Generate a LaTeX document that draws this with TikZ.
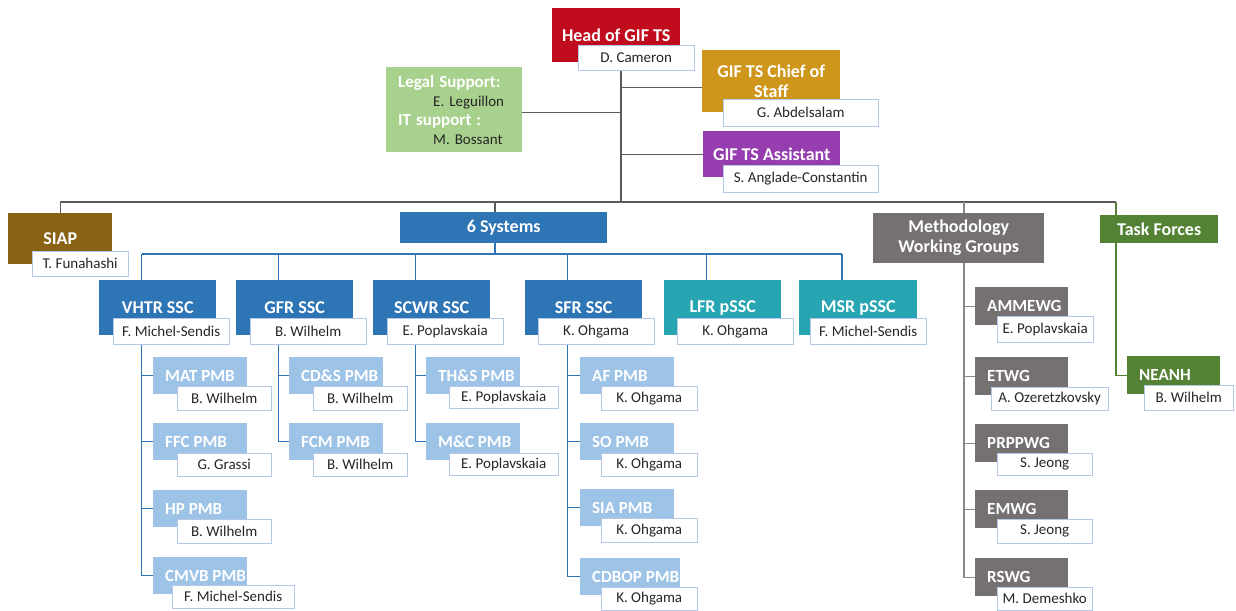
\documentclass[tikz,border=0pt]{standalone}
\usepackage{fontspec}
\setmainfont{Carlito}
\usetikzlibrary{backgrounds}

\definecolor{headred}{RGB}{192,12,28}
\definecolor{chiefgold}{RGB}{207,150,28}
\definecolor{assistpurple}{RGB}{150,62,175}
\definecolor{legalgreen}{RGB}{169,209,142}
\definecolor{siapbrown}{RGB}{137,98,20}
\definecolor{sysblue}{RGB}{46,117,182}
\definecolor{pteal}{RGB}{40,165,178}
\definecolor{pmbblue}{RGB}{157,195,230}
\definecolor{wggrey}{RGB}{118,113,113}
\definecolor{tfgreen}{RGB}{84,130,53}
\definecolor{nameline}{RGB}{180,199,231}
\definecolor{nametext}{RGB}{38,38,38}
\definecolor{linegrey}{RGB}{90,90,90}

\begin{document}
\begin{tikzpicture}[x=1pt, y=-1pt,
    title/.style={anchor=north west, inner sep=0pt, text=white, align=center,
      font=\bfseries\fontsize{18}{20}\selectfont},
    person/.style={anchor=north west, draw=nameline, fill=white, inner sep=0pt,
      minimum height=25pt, text=nametext, font=\fontsize{15}{16}\selectfont},
    boxtext/.style={anchor=west, xshift=12pt, inner sep=0pt, text=white,
      font=\bfseries\fontsize{17}{18}\selectfont},
    pmb/.style={anchor=north west, fill=pmbblue, minimum width=94pt,
      minimum height=37pt, inner sep=0pt, label={[boxtext]west:#1}},
    wg/.style={pmb=#1, fill=wggrey, minimum width=93pt, minimum height=38pt},
    topline/.style={draw=linegrey, line width=1.3pt},
    sysline/.style={draw=sysblue, line width=1.5pt},
    wgline/.style={draw=wggrey!85, line width=1.3pt},
    tfline/.style={draw=tfgreen, line width=1.3pt}]

  \useasboundingbox (0,0) rectangle (1236,610);

  % Head of GIF TS and staff
  \node[title, fill=headred, minimum width=128pt, minimum height=54pt] (head) at (552,8) {Head of GIF TS};
  \node[person, minimum width=116pt] (cameron) at (578,45) {D. Cameron};

  \node[title, fill=chiefgold, minimum width=138pt, minimum height=62pt] (chief) at (702,50) {GIF TS Chief of\\Staff};
  \node[person, minimum width=155pt, minimum height=27pt] (abdelsalam) at (723,99) {G. Abdelsalam};

  \node[title, fill=assistpurple, minimum width=137pt, minimum height=46pt] (assistant) at (703,131) {GIF TS Assistant};
  \node[person, minimum width=155pt, minimum height=27pt] (anglade) at (723,165) {S. Anglade-Constantin};

  \node[anchor=north west, fill=legalgreen, minimum width=136pt, minimum height=85pt,
        text width=112pt, inner xsep=12pt, inner ysep=0pt, align=left, text=nametext,
        font=\fontsize{15}{19}\selectfont] (legal) at (386,67)
    {\textcolor{white}{\bfseries\fontsize{17}{19}\selectfont Legal Support:}\\
     \hspace*{35pt}E. Leguillon\\
     \textcolor{white}{\bfseries\fontsize{17}{19}\selectfont IT support :}\\
     \hspace*{35pt}M. Bossant};

  % Second level
  \node[title, fill=siapbrown, minimum width=104pt, minimum height=51pt] (siap) at (8,213) {SIAP};
  \node[person, minimum width=96pt] (funahashi) at (32,251) {T. Funahashi};

  \node[title, fill=sysblue, minimum width=207pt, minimum height=31pt] (systems) at (400,212) {6 Systems};

  \node[title, fill=wggrey, minimum width=171pt, minimum height=50pt] (meth) at (873,213) {Methodology\\Working Groups};

  \node[title, fill=tfgreen, minimum width=118pt, minimum height=28pt] (tasks) at (1100,215) {Task Forces};

  % System steering committees
  \node[title, fill=sysblue, minimum width=117pt, minimum height=55pt] (vhtr) at (99,280) {VHTR SSC};
  \node[person, minimum width=116pt, minimum height=26pt] (vhtrname) at (113,318) {F. Michel-Sendis};

  \node[title, fill=sysblue, minimum width=117pt, minimum height=55pt] (gfr) at (236,280) {GFR SSC};
  \node[person, minimum width=116pt, minimum height=26pt] (gfrname) at (250,318) {B. Wilhelm};

  \node[title, fill=sysblue, minimum width=117pt, minimum height=55pt] (scwr) at (373,280) {SCWR SSC};
  \node[person, minimum width=116pt, minimum height=26pt] (scwrname) at (387,318) {E. Poplavskaia};

  \node[title, fill=sysblue, minimum width=117pt, minimum height=55pt] (sfr) at (525,280) {SFR SSC};
  \node[person, minimum width=116pt, minimum height=26pt] (sfrname) at (538,318) {K. Ohgama};

  \node[title, fill=pteal, minimum width=117pt, minimum height=55pt] (lfr) at (664,280) {LFR pSSC};
  \node[person, minimum width=116pt, minimum height=26pt] (lfrname) at (677,318) {K. Ohgama};

  \node[title, fill=pteal, minimum width=118pt, minimum height=55pt] (msr) at (799,280) {MSR pSSC};
  \node[person, minimum width=116pt, minimum height=26pt] (msrname) at (810,318) {F. Michel-Sendis};

  % VHTR project management boards
  \node[pmb=MAT PMB] (mat) at (153,357) {};
  \node[person, minimum width=94pt, minimum height=24pt] (matname) at (177,386) {B. Wilhelm};
  \node[pmb=FFC PMB] (ffc) at (153,423) {};
  \node[person, minimum width=94pt, minimum height=23pt] (ffcname) at (177,453) {G. Grassi};
  \node[pmb=HP PMB] (hp) at (153,490) {};
  \node[person, minimum width=94pt, minimum height=24pt] (hpname) at (177,519) {B. Wilhelm};
  \node[pmb=CMVB PMB] (cmvb) at (153,557) {};
  \node[person, minimum width=122pt, minimum height=23pt] (cmvbname) at (172,585) {F. Michel-Sendis};

  % GFR project management boards
  \node[pmb=CD\&S PMB] (cds) at (289,357) {};
  \node[person, minimum width=94pt, minimum height=24pt] (cdsname) at (313,386) {B. Wilhelm};
  \node[pmb=FCM PMB] (fcm) at (289,423) {};
  \node[person, minimum width=94pt, minimum height=23pt] (fcmname) at (313,453) {B. Wilhelm};

  % SCWR project management boards
  \node[pmb=TH\&S PMB] (ths) at (426,357) {};
  \node[person, minimum width=109pt, minimum height=22pt] (thsname) at (449,386) {E. Poplavskaia};
  \node[pmb=M\&C PMB] (mc) at (426,423) {};
  \node[person, minimum width=109pt, minimum height=22pt] (mcname) at (449,453) {E. Poplavskaia};

  % SFR project management boards
  \node[pmb=AF PMB] (af) at (580,357) {};
  \node[person, minimum width=96pt, minimum height=24pt] (afname) at (601,386) {K. Ohgama};
  \node[pmb=SO PMB] (so) at (580,423) {};
  \node[person, minimum width=96pt, minimum height=23pt] (soname) at (601,453) {K. Ohgama};
  \node[pmb=SIA PMB] (sia) at (580,489) {};
  \node[person, minimum width=96pt, minimum height=24pt] (sianame) at (601,518) {K. Ohgama};
  \node[pmb=CDBOP PMB, minimum width=100pt] (cdbop) at (580,558) {};
  \node[person, minimum width=96pt, minimum height=23pt] (cdbopname) at (601,587) {K. Ohgama};

  % Methodology working groups
  \node[wg=AMMEWG] (ammewg) at (975,287) {};
  \node[person, minimum width=96pt, minimum height=26pt] (ammewgname) at (997,316) {E. Poplavskaia};
  \node[wg=ETWG] (etwg) at (975,357) {};
  \node[person, minimum width=117pt, minimum height=23pt] (etwgname) at (991,387) {A. Ozeretzkovsky};
  \node[wg=PRPPWG] (prppwg) at (975,424) {};
  \node[person, minimum width=95pt, minimum height=22pt] (prppwgname) at (997,453) {S. Jeong};
  \node[wg=EMWG] (emwg) at (975,490) {};
  \node[person, minimum width=95pt, minimum height=24pt] (emwgname) at (997,519) {S. Jeong};
  \node[wg=RSWG] (rswg) at (975,558) {};
  \node[person, minimum width=95pt, minimum height=23pt] (rswgname) at (997,587) {M. Demeshko};

  % Task force
  \node[wg=NEANH, fill=tfgreen] (neanh) at (1127,356) {};
  \node[person, minimum width=89pt] (neanhname) at (1144,385) {B. Wilhelm};

  % Connectors, behind the boxes
  \begin{scope}[on background layer]
    \fill[white] (0,0) rectangle (1236,610);
    \coordinate (trunk) at (621,202);
    \coordinate (tfx) at (1116,202);
    \coordinate (wgx) at (964,202);
    \coordinate (sysx) at (495,202);
    \coordinate (sysbar) at (495,254);
    \coordinate (chiefin) at ([yshift=-6pt]chief.west);
    \coordinate (legalin) at ([yshift=-3pt]legal.east);

    % top level
    \draw[topline] (trunk |- cameron.south) -- (trunk);
    \draw[topline] (trunk |- legalin) -- (legalin);
    \draw[topline] (trunk |- chiefin) -- (chiefin);
    \draw[topline] (trunk |- assistant.west) -- (assistant.west);
    \draw[topline] (siap.north) |- (tfx);
    \draw[topline] (sysx) -- (sysx |- systems.north);

    % systems
    \coordinate (vhtrx) at ([xshift=-16pt]vhtr.north);
    \coordinate (gfrx) at ([xshift=-16pt]gfr.north);
    \coordinate (scwrx) at ([xshift=-16pt]scwr.north);
    \coordinate (sfrx) at ([xshift=-16pt]sfr.north);
    \coordinate (lfrx) at ([xshift=-16pt]lfr.north);
    \coordinate (msrx) at ([xshift=-16pt]msr.north);
    \draw[sysline] (sysbar |- systems.south) -- (sysbar);
    \draw[sysline] (vhtrx |- sysbar) -- (msrx |- sysbar);
    \draw[sysline] (vhtrx |- sysbar) -- (vhtrx);
    \draw[sysline] (gfrx |- sysbar) -- (gfrx);
    \draw[sysline] (scwrx |- sysbar) -- (scwrx);
    \draw[sysline] (sfrx |- sysbar) -- (sfrx);
    \draw[sysline] (lfrx |- sysbar) -- (lfrx);
    \draw[sysline] (msrx |- sysbar) -- (msrx);

    \draw[sysline] (vhtrx |- vhtrname.south) |- (cmvb.west);
    \draw[sysline] (vhtrx |- mat.west) -- (mat.west);
    \draw[sysline] (vhtrx |- ffc.west) -- (ffc.west);
    \draw[sysline] (vhtrx |- hp.west) -- (hp.west);

    \draw[sysline] (gfrx |- gfrname.south) |- (fcm.west);
    \draw[sysline] (gfrx |- cds.west) -- (cds.west);

    \draw[sysline] (scwrx |- scwrname.south) |- (mc.west);
    \draw[sysline] (scwrx |- ths.west) -- (ths.west);

    \draw[sysline] (sfrx |- sfrname.south) |- (cdbop.west);
    \draw[sysline] (sfrx |- af.west) -- (af.west);
    \draw[sysline] (sfrx |- so.west) -- (so.west);
    \draw[sysline] (sfrx |- sia.west) -- (sia.west);

    % working groups
    \draw[wgline] (wgx) |- (rswg.west);
    \draw[wgline] (wgx |- ammewg.west) -- (ammewg.west);
    \draw[wgline] (wgx |- etwg.west) -- (etwg.west);
    \draw[wgline] (wgx |- prppwg.west) -- (prppwg.west);
    \draw[wgline] (wgx |- emwg.west) -- (emwg.west);

    % task forces
    \draw[tfline] (tfx) |- (neanh.west);
  \end{scope}

\end{tikzpicture}
\end{document}
